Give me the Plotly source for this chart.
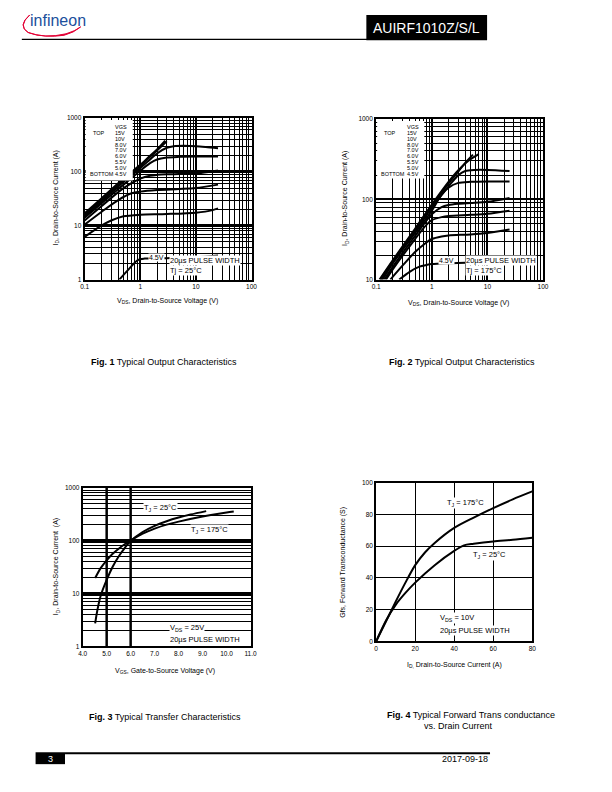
import math
import plotly.graph_objects as go

# page is 612x792; the html body adds an 8px margin, so the figure is 596x776 placed at (8, 8)
OFF = 8
W, H = 612 - 2 * OFF, 792 - 2 * OFF
def X(p): return (p - OFF) / W
def Y(p): return 1 - (p - OFF) / H

FONT = "Liberation Sans, Arial, sans-serif"

# ---------------- Fig. 1 : Typical Output Characteristics, Tj = 25 C ----------------
f1_vds_15 = [0.1, 0.2, 0.5, 1, 1.5, 2, 2.8]
f1_id_15 = [17, 32, 75, 135, 200, 260, 380]
f1_vds_10 = [0.1, 0.2, 0.5, 1, 1.5, 2, 3]
f1_id_10 = [16, 30, 70, 128, 190, 250, 370]
f1_vds_8 = [0.1, 0.2, 0.5, 1, 1.5, 2, 3, 4, 6, 10, 15, 25]
f1_id_8 = [15, 28, 65, 118, 170, 220, 280, 300, 305, 300, 290, 275]
f1_vds_7 = [0.1, 0.2, 0.5, 1, 1.5, 2, 3, 5, 10, 25]
f1_id_7 = [14, 26, 58, 105, 145, 170, 185, 190, 192, 192]
f1_vds_6 = [0.1, 0.2, 0.5, 1, 1.5, 2, 3, 5, 10, 25]
f1_id_6 = [12.5, 23, 50, 75, 85, 88, 90, 91, 93, 106]
f1_vds_55 = [0.1, 0.2, 0.4, 0.7, 1, 2, 5, 10, 25]
f1_id_55 = [10.5, 18, 30, 40, 43, 46, 48, 50, 58]
f1_vds_5 = [0.1, 0.2, 0.3, 0.5, 0.7, 1, 3, 10, 20, 25]
f1_id_5 = [6.2, 10, 12.5, 15, 15.5, 16, 16.5, 17.5, 19.5, 21]
f1_vds_45 = [0.42, 0.6, 0.9, 1.2, 3, 10, 25]
f1_id_45 = [1, 1.5, 2.3, 2.45, 2.5, 2.6, 2.8]

# ---------------- Fig. 2 : Typical Output Characteristics, Tj = 175 C ----------------
f2_vds_15 = [0.115, 0.2, 0.5, 1, 2, 3, 4.5, 7]
f2_id_15 = [10, 17.5, 43, 86, 165, 230, 300, 365]
f2_vds_10 = [0.12, 0.2, 0.5, 1, 2, 3, 4, 5.5]
f2_id_10 = [10, 17, 41, 82, 158, 222, 285, 360]
f2_vds_8 = [0.125, 0.2, 0.5, 1, 2, 3, 4, 6, 10, 25]
f2_id_8 = [10, 16.5, 40, 78, 145, 200, 225, 232, 232, 225]
f2_vds_7 = [0.13, 0.2, 0.5, 1, 1.5, 2, 3, 5, 10, 25]
f2_id_7 = [10, 16, 38, 72, 115, 140, 160, 165, 167, 167]
f2_vds_6 = [0.14, 0.2, 0.5, 1, 1.5, 2, 3, 5, 10, 25]
f2_id_6 = [10, 14.5, 35, 65, 80, 85, 88, 90, 93, 104]
f2_vds_55 = [0.15, 0.2, 0.5, 0.8, 1, 1.5, 2, 5, 10, 25]
f2_id_55 = [10, 13.5, 32, 48, 55, 60, 62, 64, 66, 72]
f2_vds_5 = [0.18, 0.3, 0.5, 0.8, 1, 1.5, 2, 5, 10, 25]
f2_id_5 = [10, 15, 22, 29, 32, 34.5, 35.5, 36.5, 38, 42]
f2_vds_45 = [0.26, 0.4, 0.6, 0.8, 1, 2, 5, 10, 25]
f2_id_45 = [10, 12.5, 14.5, 15.2, 15.6, 16, 16.3, 17, 19.5]

# ---------------- Fig. 3 : Typical Transfer Characteristics ----------------
f3_vgs_25 = [4.52, 4.6, 4.75, 5.0, 5.25, 5.5, 5.75, 6.0, 6.5, 7.0, 7.5, 8.0, 8.5, 9.15]
f3_id_25 = [2.7, 4.5, 9, 18, 32, 50, 72, 98, 145, 190, 232, 272, 310, 360]
f3_vgs_175 = [4.52, 4.75, 5.0, 5.25, 5.5, 5.75, 6.0, 6.5, 7.0, 7.5, 8.0, 9.0, 10.0, 10.3]
f3_id_175 = [19.5, 30, 42, 56, 70, 85, 100, 135, 168, 200, 228, 285, 340, 355]

# ---------------- Fig. 4 : Forward Transconductance ----------------
f4_id_175 = [0, 5, 10, 15, 20, 25, 30, 40, 50, 60, 70, 80]
f4_gfs_175 = [0, 12.5, 25, 37, 48, 56, 62, 71.5, 78, 84, 89.5, 94.5]
f4_id_25 = [0, 5, 10, 15, 20, 30, 40, 45, 50, 60, 70, 80]
f4_gfs_25 = [0, 13, 23, 30.5, 37, 48, 57, 60.5, 61.5, 63, 64, 65.3]

legend_labels = ["15V", "10V", "8.0V", "7.0V", "6.0V", "5.5V", "5.0V", "4.5V"]

fig = go.Figure()

def curve(x, y, xa, ya):
    fig.add_trace(go.Scatter(x=x, y=y, xaxis=xa, yaxis=ya, mode="lines",
                             line=dict(color="black", width=2, shape="spline", smoothing=0.8),
                             showlegend=False, hoverinfo="skip"))

for xs, ys in [(f1_vds_15, f1_id_15), (f1_vds_10, f1_id_10), (f1_vds_8, f1_id_8),
               (f1_vds_7, f1_id_7), (f1_vds_6, f1_id_6), (f1_vds_55, f1_id_55),
               (f1_vds_5, f1_id_5), (f1_vds_45, f1_id_45)]:
    curve(xs, ys, "x", "y")
for xs, ys in [(f2_vds_15, f2_id_15), (f2_vds_10, f2_id_10), (f2_vds_8, f2_id_8),
               (f2_vds_7, f2_id_7), (f2_vds_6, f2_id_6), (f2_vds_55, f2_id_55),
               (f2_vds_5, f2_id_5), (f2_vds_45, f2_id_45)]:
    curve(xs, ys, "x2", "y2")
curve(f3_vgs_25, f3_id_25, "x3", "y3")
curve(f3_vgs_175, f3_id_175, "x3", "y3")
curve(f4_id_175, f4_gfs_175, "x4", "y4")
curve(f4_id_25, f4_gfs_25, "x4", "y4")

tickfont = dict(family=FONT, size=6.5, color="black")
minor_log = dict(dtick="D1", showgrid=True, gridcolor="black", gridwidth=1.3, ticks="")

def log_axis(dom, rng, vals, texts, anchor, gw=2.2):
    return dict(type="log", domain=dom, range=rng, tickvals=vals, ticktext=texts,
                showgrid=True, gridcolor="black", gridwidth=gw, minor=minor_log,
                showline=True, linecolor="black", linewidth=2, mirror=True,
                ticks="", tickfont=tickfont, anchor=anchor, zeroline=False)

fig.update_layout(
    xaxis=log_axis([X(81), X(251)], [-1, 2], [0.1, 1, 10, 100], ["0.1", "1", "10", "100"], "y"),
    yaxis=log_axis([Y(278), Y(115)], [0, 3], [1, 10, 100, 1000], ["1", "10", "100", "1000"], "x", 2.6),
    xaxis2=log_axis([X(378), X(548)], [-1, 2], [0.1, 1, 10, 100], ["0.1", "1", "10", "100"], "y2"),
    yaxis2=log_axis([Y(278), Y(116)], [1, 3], [10, 100, 1000], ["10", "100", "1000"], "x2"),
    xaxis3=dict(domain=[X(79), X(250)], range=[4, 11], dtick=1, tick0=4, tickformat=".1f",
                showgrid=False, showline=True, linecolor="black", linewidth=2, mirror=True,
                ticks="", tickfont=tickfont, anchor="y3", zeroline=False),
    yaxis3=log_axis([Y(648), Y(488)], [0, 3], [1, 10, 100, 1000], ["1", "10", "100", "1000"], "x3", 3),
    xaxis4=dict(domain=[X(378), X(537)], range=[0, 80], dtick=20,
                showgrid=True, gridcolor="black", gridwidth=1.3,
                showline=True, linecolor="black", linewidth=2, mirror=True,
                ticks="", tickfont=tickfont, anchor="y4", zeroline=False),
    yaxis4=dict(domain=[Y(643), Y(483)], range=[0, 100], dtick=20,
                showgrid=True, gridcolor="black", gridwidth=1.3,
                showline=True, linecolor="black", linewidth=2, mirror=True,
                ticks="", tickfont=tickfont, anchor="x4", zeroline=False),
)

shapes = []
# Fig 3 vertical grid lines at 5.0 and 6.0 V
for gx in [5, 6]:
    shapes.append(dict(type="line", xref="x3", yref="y3 domain", x0=gx, x1=gx, y0=0, y1=1,
                       line=dict(color="black", width=2.5), layer="below"))
# legend boxes (white, covering grid)
shapes.append(dict(type="rect", xref="paper", yref="paper", x0=X(82), x1=X(130), y0=Y(178), y1=Y(117),
                   fillcolor="white", line=dict(width=0), layer="above"))
shapes.append(dict(type="rect", xref="paper", yref="paper", x0=X(379), x1=X(427), y0=Y(176), y1=Y(118),
                   fillcolor="white", line=dict(width=0), layer="above"))
# header
shapes.append(dict(type="line", xref="paper", yref="paper", x0=X(17), x1=X(369), y0=Y(35.7), y1=Y(35.7),
                   line=dict(color="black", width=1.3)))
shapes.append(dict(type="rect", xref="paper", yref="paper", x0=X(368), x1=X(491), y0=Y(36.5), y1=Y(11),
                   fillcolor="black", line=dict(width=0)))
# infineon swoosh
def pth(pts):
    s = "M {:.5f},{:.5f}".format(X(pts[0][0]), Y(pts[0][1]))
    for i in range(1, len(pts), 2):
        s += " Q {:.5f},{:.5f} {:.5f},{:.5f}".format(X(pts[i][0]), Y(pts[i][1]), X(pts[i+1][0]), Y(pts[i+1][1]))
    return s
swoosh = pth([(25, 11), (12, 22), (24, 29), (40, 35), (62, 30), (72, 27), (77, 23),
              (70, 29), (60, 31.5), (40, 34.5), (23, 28.5), (13, 22), (25, 11)])
shapes.append(dict(type="path", xref="paper", yref="paper", path=swoosh + " Z",
                   fillcolor="#e30034", line=dict(color="#e30034", width=1)))
# footer
shapes.append(dict(type="rect", xref="paper", yref="paper", x0=X(31), x1=X(61), y0=Y(767), y1=Y(755),
                   fillcolor="black", line=dict(width=0)))
shapes.append(dict(type="line", xref="paper", yref="paper", x0=X(61), x1=X(494), y0=Y(756), y1=Y(756),
                   line=dict(color="black", width=2)))
fig.update_layout(shapes=shapes)

ann = []
def txt(x, y, text, size=7, xanchor="center", yanchor="middle", color="black", angle=0, bg=None,
        family=FONT, xref="paper", yref="paper"):
    d = dict(x=x, y=y, xref=xref, yref=yref, text=text, showarrow=False, xanchor=xanchor, yanchor=yanchor,
             font=dict(family=family, size=size, color=color), textangle=angle)
    if bg:
        d["bgcolor"] = bg
        d["borderpad"] = 0
    ann.append(d)

# header / footer texts
txt(X(23), Y(17), "infineon", size=16, xanchor="left", color="#1b4f9c",
    family="Liberation Sans Narrow, Arial Narrow, sans-serif")
txt(X(429.5), Y(24), "AUIRF1010Z/S/L", size=14, color="white")
txt(X(46), Y(761.5), "3", size=9, color="white")
txt(X(494), Y(762), "2017-09-18", size=9, xanchor="right")

# axis titles
txt(X(165), Y(300), "V<sub>DS</sub>, Drain-to-Source Voltage (V)", size=7)
txt(X(52), Y(196), "I<sub>D</sub>, Drain-to-Source Current (A)", size=7, angle=-90)
txt(X(462), Y(302), "V<sub>DS</sub>, Drain-to-Source Voltage (V)", size=7)
txt(X(347), Y(196), "I<sub>D</sub>, Drain-to-Source Current (A)", size=7, angle=-90)
txt(X(163), Y(673), "V<sub>GS</sub>, Gate-to-Source Voltage (V)", size=7)
txt(X(52), Y(568), "I<sub>D</sub>, Drain-to-Source Current  (A)", size=7, angle=-90)
txt(X(458), Y(667), "I<sub>D,</sub> Drain-to-Source Current (A)", size=7)
txt(X(344), Y(563), "Gfs, Forward Transconductance (S)", size=7, angle=-90)

# captions
txt(X(162), Y(361), "<b>Fig. 1</b> Typical Output Characteristics", size=9)
txt(X(465), Y(361), "<b>Fig. 2</b> Typical Output Characteristics", size=9)
txt(X(163), Y(719), "<b>Fig. 3</b> Typical Transfer Characteristics", size=9)
txt(X(475), Y(717), "<b>Fig. 4</b> Typical Forward Trans conductance", size=9)
txt(X(462), Y(729), "vs. Drain Current", size=9)

# legends in figs 1 & 2
for (lx0, vx, top) in [(81, 110, 124), (378, 407, 124)]:
    txt(X(vx), Y(top), "VGS", size=5.5, xanchor="left")
    for i, lab in enumerate(legend_labels):
        yy = top + 6 + i * 5.9
        txt(X(vx), Y(yy), lab, size=5.5, xanchor="left")
    txt(X(lx0 + 6), Y(top + 6), "TOP", size=5.5, xanchor="left")
    txt(X(lx0 + 3), Y(top + 6 + 7 * 5.9), "BOTTOM", size=5.5, xanchor="left")

# Fig 1 annotations
txt(math.log10(1.95), math.log10(2.55), "4.5V", size=7, bg="white", xref="x", yref="y")
txt(X(167), Y(259), "20µs PULSE WIDTH", size=7.5, xanchor="left", bg="white")
txt(X(167), Y(269), "Tj = 25°C", size=7.5, xanchor="left", bg="white")
# Fig 2 annotations
txt(math.log10(1.85), math.log10(17.5), "4.5V", size=7, bg="white", xref="x2", yref="y2")
txt(X(468), Y(259), "20µs PULSE WIDTH", size=7.5, xanchor="left", bg="white")
txt(X(468), Y(269), "Tj = 175°C", size=7.5, xanchor="left", bg="white")
# Fig 3 annotations
txt(X(158), Y(509), "T<sub>J</sub> = 25°C", size=7.5, bg="white")
txt(X(208), Y(531), "T<sub>J</sub> = 175°C", size=7.5, bg="white")
txt(X(167), Y(630), "V<sub>DS</sub> = 25V", size=7.5, xanchor="left", bg="white")
txt(X(167), Y(641), "20µs PULSE WIDTH", size=7.5, xanchor="left", bg="white")
# Fig 4 annotations
txt(X(469), Y(503), "T<sub>J</sub> = 175°C", size=7.5, bg="white")
txt(X(493), Y(556), "T<sub>J</sub> = 25°C", size=7.5, bg="white")
txt(X(442), Y(620), "V<sub>DS</sub> = 10V", size=7.5, xanchor="left", bg="white")
txt(X(442), Y(632), "20µs PULSE WIDTH", size=7.5, xanchor="left", bg="white")

fig.update_layout(annotations=ann, width=W, height=H, margin=dict(l=0, r=0, t=0, b=0),
                  paper_bgcolor="white", plot_bgcolor="white", showlegend=False,
                  font=dict(family=FONT, color="black"))

fig.write_html("out.html", config={"displayModeBar": False})
